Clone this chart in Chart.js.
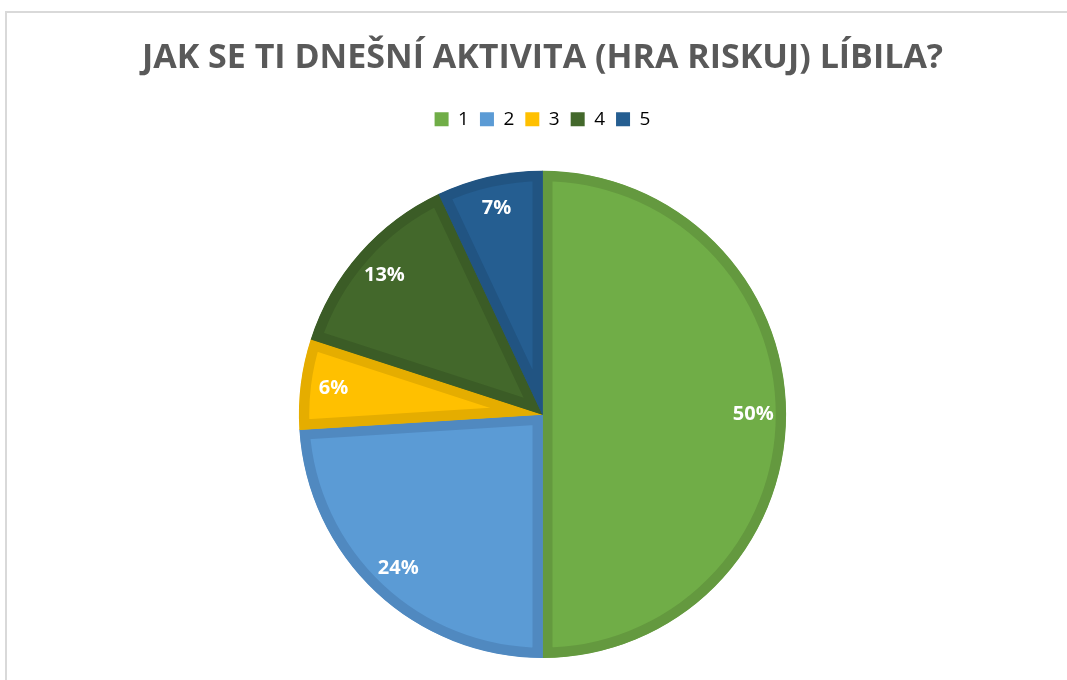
<!DOCTYPE html>
<html>
<head>
<meta charset="utf-8">
<script src="https://cdn.jsdelivr.net/npm/chart.js@4"></script>
<style>
  html, body { margin: 0; padding: 0; background: #ffffff; overflow: hidden; }
  #frame {
    position: absolute; left: 5px; top: 11px; width: 1100px; height: 720px;
    border: 2px solid #d9d9d9; box-sizing: border-box;
  }
  #wrap { position: absolute; left: 0; top: 0; width: 1067px; height: 680px; }
</style>
</head>
<body>
<div id="frame"></div>
<div id="wrap"><canvas id="pie"></canvas></div>
<script>
// Data
const categories = ['1', '2', '3', '4', '5'];
const shares = [50, 24, 6, 13, 7];
const sliceColors = ['#70ad47', '#5b9bd5', '#ffc000', '#43682b', '#255e91'];
const edgeColors = ['#64993f', '#5089c0', '#e5ad00', '#3b5c26', '#215482'];
const chartTitle = 'JAK SE TI DNEŠNÍ AKTIVITA (HRA RISKUJ) LÍBILA?';

// Percent labels inside the slices (no datalabels plugin available)
const sliceLabelPlugin = {
    id: 'sliceLabels',
    afterDatasetsDraw(chart) {
        const ctx = chart.ctx;
        const meta = chart.getDatasetMeta(0);
        ctx.save();
        ctx.fillStyle = '#ffffff';
        ctx.font = 'bold 20px "Open Sans", sans-serif';
        ctx.textAlign = 'center';
        ctx.textBaseline = 'middle';
        meta.data.forEach((arc, i) => {
            const mid = (arc.startAngle + arc.endAngle) / 2;
            const r = arc.outerRadius * 0.865;
            const x = arc.x + Math.cos(mid) * r;
            const y = arc.y + Math.sin(mid) * r;
            ctx.fillText(shares[i] + '%', x, y);
        });
        ctx.restore();
    }
};

// Extra room between legend and the pie
const legendSpacingPlugin = {
    id: 'legendSpacing',
    beforeInit(chart) {
        const originalFit = chart.legend && chart.legend.fit ? chart.legend.fit : null;
        if (!originalFit) return;
        chart.legend.fit = function fit() {
            originalFit.call(this);
            this.height += 32;
        };
    }
};

const config = {
    type: 'pie',
    data: {
        labels: categories,
        datasets: [{
            data: shares,
            backgroundColor: sliceColors,
            borderColor: edgeColors,
            borderWidth: 10,
            borderAlign: 'inner'
        }]
    },
    plugins: [sliceLabelPlugin, legendSpacingPlugin],
    options: {
        responsive: true,
        maintainAspectRatio: false,
        animation: false,
        layout: {
            padding: { top: 0, bottom: 22, left: 18, right: 0 }
        },
        plugins: {
            title: {
                display: true,
                text: chartTitle,
                color: '#595959',
                font: { family: '"Open Sans", sans-serif', size: 34, weight: 'bold' },
                padding: { top: 38, bottom: 20 }
            },
            legend: {
                display: true,
                position: 'top',
                labels: {
                    color: '#595959',
                    font: { family: '"Open Sans", sans-serif', size: 19 },
                    boxWidth: 14,
                    boxHeight: 14,
                    padding: 11,
                    generateLabels(chart) {
                        return categories.map((c, i) => ({
                            text: c,
                            fillStyle: sliceColors[i],
                            strokeStyle: sliceColors[i],
                            lineWidth: 0,
                            index: i
                        }));
                    }
                }
            },
            tooltip: { enabled: false }
        }
    }
};

new Chart(document.getElementById('pie'), config);
</script>
</body>
</html>
